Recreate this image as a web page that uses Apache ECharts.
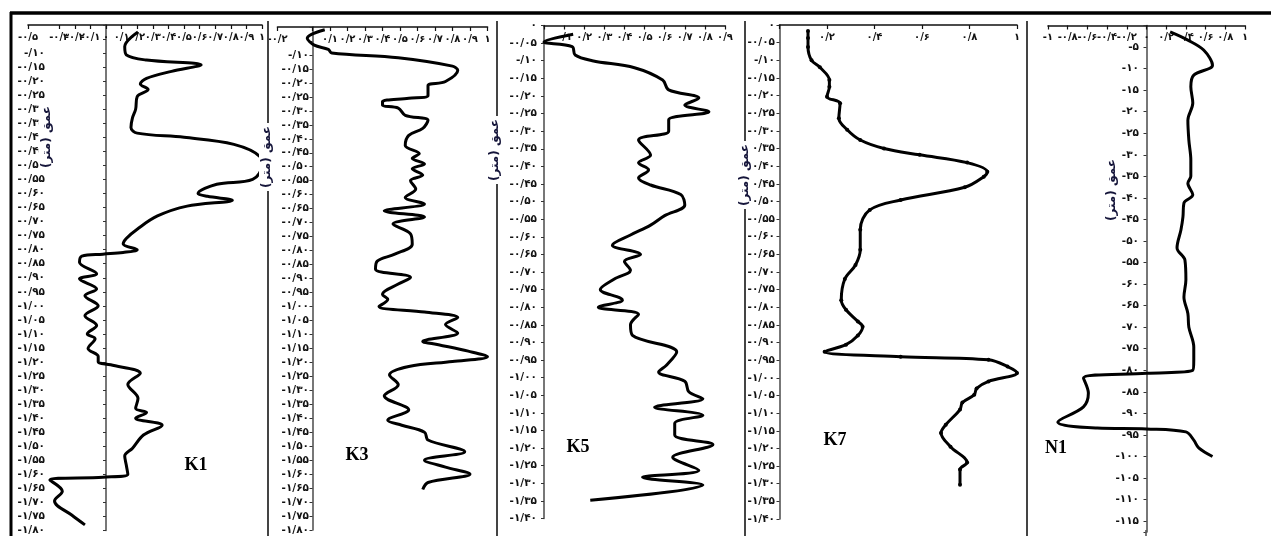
<!DOCTYPE html>
<html><head><meta charset="utf-8">
<script src="https://cdn.jsdelivr.net/npm/echarts@6/dist/echarts.min.js"></script>
<style>html,body{margin:0;padding:0;background:#fff}#c{width:1271px;height:536px}</style>
</head><body><div id="c"></div>
<script>
// ---------- tick labels ----------
const depthLabels = ['۰','-۰/۰۵','-/۱۰','-۰/۱۵','-۰/۲۰','-۰/۲۵','-۰/۳۰','-۰/۳۵','-۰/۴۰','-۰/۴۵','-۰/۵۰','-۰/۵۵','-۰/۶۰','-۰/۶۵','-۰/۷۰','-۰/۷۵','-۰/۸۰','-۰/۸۵','-۰/۹۰','-۰/۹۵','-۱/۰۰','-۱/۰۵','-۱/۱۰','-۱/۱۵','-۱/۲۰','-۱/۲۵','-۱/۳۰','-۱/۳۵','-۱/۴۰','-۱/۴۵','-۱/۵۰','-۱/۵۵','-۱/۶۰','-۱/۶۵','-۱/۷۰','-۱/۷۵','-۱/۸۰'];
const n1DepthLabels = ['','-۵','-۱۰','-۱۵','-۲۰','-۲۵','-۳۰','-۳۵','-۴۰','-۴۵','-۵۰','-۵۵','-۶۰','-۶۵','-۷۰','-۷۵','-۸۰','-۸۵','-۹۰','-۹۵','-۱۰۰','-۱۰۵','-۱۱۰','-۱۱۵'];
const k1XLabels = ['-۰/۵','-۰/۴','-۰/۳','-۰/۲','-۰/۱','۰','۰/۱','۰/۲','۰/۳','۰/۴','۰/۵','۰/۶','۰/۷','۰/۸','۰/۹','۱'];
const k3XLabels = ['-۰/۲','-۰/۱','','۰/۱','۰/۲','۰/۳','۰/۴','۰/۵','۰/۶','۰/۷','۰/۸','۰/۹','۱'];
const k5XLabels = ['','۰/۱','۰/۲','۰/۳','۰/۴','۰/۵','۰/۶','۰/۷','۰/۸','۰/۹'];
const k7XLabels = ['','۰/۲','۰/۴','۰/۶','۰/۸','۱'];
const n1XLabels = ['-۱','-۰/۸','-۰/۶','-۰/۴','-۰/۲','۰','۰/۲','۰/۴','۰/۶','۰/۸','۱'];
const wellNames = ['K1','K3','K5','K7','N1'];
const depthTitle = 'عمق (متر)';

// ---------- series values (value, depth) ----------
const k1X = [0.205,0.12,0.13,0.26,0.61,0.42,0.26,0.22,0.27,0.2,0.19,0.17,0.16,0.2,0.5,0.82,0.99,1.0,0.94,0.71,0.59,0.65,0.81,0.52,0.33,0.2,0.13,0.11,0.2,0.11,-0.02,-0.155,-0.17,-0.06,-0.17,-0.06,-0.135,-0.05,-0.135,-0.06,-0.12,-0.07,-0.115,-0.05,-0.05,0.03,0.22,0.14,0.205,0.19,0.26,0.19,0.36,0.24,0.17,0.12,0.13,0.14,-0.02,-0.36,-0.28,-0.33,-0.22,-0.135];
const k1D = [0.025,0.077,0.106,0.125,0.142,0.165,0.19,0.21,0.23,0.255,0.30,0.33,0.365,0.385,0.40,0.425,0.47,0.50,0.55,0.567,0.60,0.61,0.624,0.645,0.68,0.727,0.76,0.78,0.80,0.81,0.816,0.823,0.845,0.886,0.904,0.94,0.964,1.0,1.035,1.07,1.10,1.117,1.152,1.18,1.20,1.21,1.24,1.28,1.33,1.365,1.38,1.40,1.425,1.46,1.507,1.535,1.567,1.60,1.61,1.62,1.66,1.695,1.745,1.78];

const k3X = [0.07,-0.03,0.01,0.09,0.11,0.49,0.80,0.83,0.76,0.66,0.66,0.55,0.40,0.40,0.49,0.53,0.66,0.63,0.55,0.53,0.61,0.57,0.64,0.57,0.63,0.56,0.59,0.53,0.64,0.41,0.64,0.46,0.56,0.57,0.47,0.37,0.36,0.56,0.49,0.40,0.43,0.38,0.64,0.83,0.76,0.83,0.63,0.72,0.89,1.0,0.80,0.55,0.44,0.49,0.41,0.55,0.43,0.51,0.64,0.66,0.87,0.64,0.76,0.90,0.66,0.63];
const k3D = [0.01,0.04,0.065,0.08,0.093,0.11,0.14,0.155,0.195,0.21,0.245,0.255,0.267,0.28,0.29,0.316,0.334,0.363,0.388,0.424,0.453,0.47,0.49,0.507,0.53,0.55,0.58,0.61,0.633,0.658,0.68,0.705,0.74,0.777,0.813,0.838,0.867,0.896,0.92,0.957,0.975,1.0,1.02,1.04,1.065,1.095,1.125,1.137,1.16,1.18,1.197,1.215,1.245,1.28,1.32,1.37,1.407,1.425,1.45,1.478,1.52,1.55,1.575,1.60,1.63,1.655];

const k5X = [0.145,0,0.14,0.155,0.24,0.45,0.59,0.62,0.77,0.70,0.82,0.62,0.62,0.47,0.53,0.47,0.52,0.47,0.53,0.68,0.70,0.60,0.53,0.43,0.34,0.48,0.40,0.43,0.35,0.28,0.38,0.39,0.27,0.47,0.43,0.44,0.66,0.61,0.57,0.70,0.72,0.79,0.55,0.79,0.65,0.65,0.84,0.64,0.77,0.49,0.79,0.23];
const k5D = [0.025,0.047,0.06,0.084,0.10,0.12,0.155,0.183,0.206,0.226,0.245,0.268,0.30,0.325,0.368,0.39,0.41,0.433,0.453,0.48,0.51,0.54,0.567,0.595,0.624,0.65,0.67,0.695,0.72,0.75,0.774,0.78,0.80,0.82,0.85,0.88,0.927,0.964,0.984,1.01,1.04,1.06,1.084,1.107,1.13,1.163,1.19,1.226,1.263,1.283,1.305,1.348];

const k7X = [0.12,0.12,0.12,0.135,0.17,0.21,0.21,0.20,0.255,0.25,0.285,0.34,0.44,0.59,0.79,0.875,0.86,0.78,0.51,0.38,0.34,0.34,0.32,0.275,0.26,0.28,0.33,0.35,0.33,0.28,0.19,0.51,0.88,0.96,1.0,0.88,0.83,0.82,0.77,0.76,0.70,0.68,0.72,0.79,0.76,0.76];
const k7D = [0.017,0.037,0.062,0.10,0.12,0.156,0.175,0.203,0.222,0.264,0.297,0.326,0.35,0.368,0.39,0.416,0.43,0.46,0.496,0.524,0.58,0.637,0.68,0.72,0.78,0.807,0.84,0.855,0.88,0.906,0.926,0.94,0.949,0.968,0.986,1.01,1.03,1.048,1.07,1.09,1.133,1.156,1.195,1.24,1.26,1.303];

const n1X = [0.24,0.42,0.58,0.67,0.48,0.45,0.47,0.42,0.43,0.45,0.45,0.42,0.47,0.38,0.37,0.35,0.31,0.39,0.40,0.38,0.42,0.43,0.48,0.48,0.47,0,-0.64,-0.59,-0.64,-0.90,-0.5,0,0.40,0.48,0.53,0.67];
const n1D = [1.5,3.4,5.7,9.2,11.5,14.2,18,22,26.6,31.2,35,36.6,39.3,41.2,44.4,47.4,51.6,54.4,59,63,66.8,70,74.6,77.6,80,80.7,81.8,85.3,88.5,92,93.4,93.6,94.3,96.2,98,100];

// ---------- layout ----------
const panels = [
  {x:k1X, d:k1D, xMin:-0.5, xMax:1, xInt:0.1, xLab:k1XLabels, yMax:1.8, yInt:0.05, yLab:depthLabels, skipY:2,
   grid:{left:28, width:234, top:25, height:507}, labelRight:45, dots:false, name:[196,465], title:[47,137]},
  {x:k3X, d:k3D, xMin:-0.2, xMax:1, xInt:0.1, xLab:k3XLabels, yMax:1.8, yInt:0.05, yLab:depthLabels, skipY:2,
   grid:{left:277.5, width:210, top:27, height:503}, labelRight:309, dots:false, name:[357,455], title:[267,157]},
  {x:k5X, d:k5D, xMin:0, xMax:0.9, xInt:0.1, xLab:k5XLabels, yMax:1.4, yInt:0.05, yLab:depthLabels, skipY:0,
   grid:{left:544, width:181, top:25.5, height:493}, labelRight:537, dots:false, name:[578,447], title:[495,150]},
  {x:k7X, d:k7D, xMin:0, xMax:1, xInt:0.2, xLab:k7XLabels, yMax:1.4, yInt:0.05, yLab:depthLabels, skipY:0,
   grid:{left:779.5, width:237.5, top:25, height:494}, labelRight:775, dots:true, name:[835,440], title:[745,175]},
  {x:n1X, d:n1D, xMin:-1, xMax:1, xInt:0.2, xLab:n1XLabels, yMax:117.5, yInt:5, yLab:n1DepthLabels, skipY:1,
   grid:{left:1048, width:197, top:25.5, height:506.4}, labelRight:1139, dots:false, name:[1056,448], title:[1112,190]}
];

const FONT = 'DejaVu Sans';
const grid = [], xAxis = [], yAxis = [], series = [], graphic = [];
const isStep = (v, base, step) => { const r = (v - base) / step; return Math.abs(r - Math.round(r)) < 1e-6; };

panels.forEach((p, i) => {
  grid.push(Object.assign({containLabel:false}, p.grid));
  xAxis.push({
    type:'value', gridIndex:i, position:'top', min:p.xMin, max:p.xMax, interval:p.xInt,
    splitLine:{show:false},
    axisLine:{show:true, onZero:false, lineStyle:{color:'#111', width:1.6}},
    axisTick:{show:true, inside:true, length:4, lineStyle:{color:'#111', width:1.2}},
    axisLabel:{show:true, inside:true, margin:7, interval:0, color:'#111', fontFamily:FONT, fontWeight:'bold', fontSize:10,
      showMinLabel:true, showMaxLabel:true,
      formatter:(v)=>{ if (!isStep(v, p.xMin, p.xInt)) return ''; const k=Math.round((v-p.xMin)/p.xInt); return p.xLab[k]!==undefined ? p.xLab[k] : ''; }}
  });
  const yFmt = (v)=>{ if (!isStep(v, 0, p.yInt)) return ''; const k=Math.round(v/p.yInt); return (k < p.skipY || p.yLab[k]===undefined) ? '' : p.yLab[k]; };
  const yIdx = yAxis.length;
  // axis line sitting on value zero (ticks only)
  yAxis.push({
    type:'value', gridIndex:i, inverse:true, min:0, max:p.yMax, interval:p.yInt, position:'left',
    splitLine:{show:false},
    axisLine:{show:true, onZero:true, lineStyle:{color:'#555', width:1.6}},
    axisTick:{show:true, length:3, lineStyle:{color:'#333', width:1}},
    axisLabel:{show:false}
  });
  // label column
  const margin = 4;
  yAxis.push({
    type:'value', gridIndex:i, inverse:true, min:0, max:p.yMax, interval:p.yInt, position:'left',
    offset: p.grid.left - p.labelRight - margin,
    splitLine:{show:false}, axisLine:{show:false, onZero:false}, axisTick:{show:false},
    axisLabel:{show:true, margin:margin, color:'#111', fontFamily:FONT, fontWeight:'bold', fontSize:10.5,
      showMinLabel:true, showMaxLabel:true, formatter:yFmt}
  });
  series.push({
    type:'line', xAxisIndex:i, yAxisIndex:yIdx,
    data:p.x.map((v,j)=>[v, p.d[j]]),
    smooth:0.35, showSymbol:p.dots, symbol:'circle', symbolSize:4,
    itemStyle:{color:'#000'}, lineStyle:{color:'#000', width:3}, silent:true, animation:false
  });
  graphic.push({type:'text', x:p.name[0], y:p.name[1], z:10,
    style:{text:wellNames[i], fill:'#000', font:"bold 18px 'Liberation Serif'", textAlign:'center', align:'center', textVerticalAlign:'middle', verticalAlign:'middle'}});
});

// separators, frame and depth titles
[268, 497, 745, 1027].forEach(x => {
  graphic.push({type:'line', shape:{x1:x, y1:21, x2:x, y2:536}, style:{stroke:'#444', lineWidth:2}, z:1});
});
graphic.push({type:'line', shape:{x1:1146, y1:530, x2:1146, y2:536}, style:{stroke:'#555', lineWidth:1.6}, z:1});
graphic.push({type:'line', shape:{x1:10, y1:13, x2:1271, y2:13}, style:{stroke:'#000', lineWidth:3.5}, z:2});
graphic.push({type:'line', shape:{x1:11, y1:12, x2:11, y2:536}, style:{stroke:'#000', lineWidth:3}, z:2});
panels.forEach(p => {
  graphic.push({type:'text', x:p.title[0], y:p.title[1], rotation:Math.PI/2, z:20,
    style:{text:depthTitle, fill:'#15153a', font:"bold 12px 'DejaVu Sans'", textAlign:'center', align:'center',
      textVerticalAlign:'middle', verticalAlign:'middle', backgroundColor:'#fff', padding:[2,3]}});
});

const chart = echarts.init(document.getElementById('c'), null, {renderer:'canvas'});
chart.setOption({animation:false, backgroundColor:'#fff', grid, xAxis, yAxis, series, graphic});
</script></body></html>
